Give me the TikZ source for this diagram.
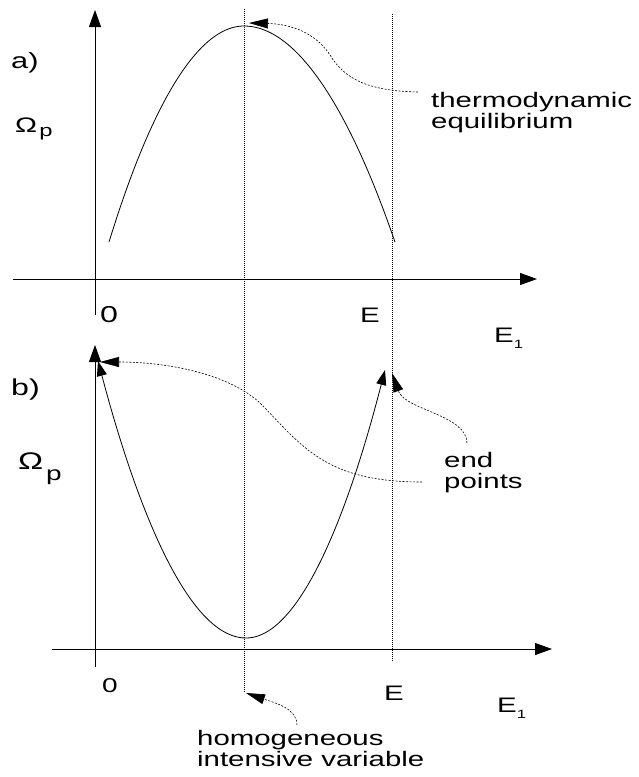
\documentclass[tikz,border=0pt]{standalone}
\usepackage{fontspec}
\setmainfont{Liberation Sans}
\usetikzlibrary{arrows.meta}
\newcommand{\stretchx}[1]{\scalebox{1.4}[1]{#1}}

\tikzset{
  axis/.style={line width=0.9pt,-{Triangle[length=17pt,width=12pt]}},
  curve/.style={line width=0.8pt},
  guide/.style={line width=0.8pt,dash pattern=on 1pt off 1pt},
  pointer/.style={line width=0.6pt,dash pattern=on 2pt off 1.5pt,-{Triangle[length=19pt,width=10pt]}},
  lbl/.style={inner sep=0pt,font=\fontsize{21}{21}\selectfont,align=left},
}

\begin{document}
\begin{tikzpicture}[x=1pt,y=-1pt]
  \useasboundingbox (0,0) rectangle (639,777);

  % guide lines through both panels
  \draw[guide] (244,9) -- (244,693);
  \draw[guide] (392,14) -- (392,662);

  % panel a)
  \draw[axis] (95,315) -- (95,10);
  \draw[axis] (13,279) -- (537,279);
  \draw[curve] (109,242) parabola bend (244,26) (395,242);

  \node[lbl,anchor=base west,font=\fontsize{22}{22}\selectfont] (labA) at (11,68) {\stretchx{a)}};
  \node[lbl,anchor=base west] (omegaA) at (15,132) {\stretchx{\fontsize{21}{21}\selectfont Ω\hspace{1.5pt}\raisebox{-4.5pt}{\fontsize{17}{17}\selectfont p}}};
  \node[lbl,anchor=base west,font=\fontsize{23}{23}\selectfont] (zeroA) at (100,322) {\stretchx{0}};
  \node[lbl,anchor=base west] (eA) at (360,322) {\stretchx{E}};
  \node[lbl,anchor=base west] (eoneA) at (494,342) {\stretchx{E\raisebox{-6pt}{\fontsize{12}{12}\selectfont 1}}};
  \node[lbl,anchor=north west] (eqlbl) at (431,92) {\stretchx{thermodynamic}\\\stretchx{equilibrium}};

  \coordinate (eqfrom) at (418,92);
  \coordinate (peak) at (249,23);
  \draw[pointer] (eqfrom) .. controls (370,91) and (345,80) .. (330,55)
    .. controls (315,32) and (290,24) .. (peak);

  % panel b)
  \draw[axis] (95,667) -- (95,345);
  \draw[axis] (52,649) -- (552,649);
  \draw[curve,{Triangle[length=15pt,width=10pt]}-{Triangle[length=15pt,width=10pt]}]
    (98,361) parabola bend (246,638) (385,370);

  \node[lbl,anchor=base west,font=\fontsize{23}{23}\selectfont] (labB) at (11,395) {\stretchx{b)}};
  \node[lbl,anchor=base west] (omegaB) at (18,469) {\stretchx{\fontsize{24}{24}\selectfont Ω\hspace{2pt}\raisebox{-11pt}{\fontsize{20}{20}\selectfont p}}};
  \node[lbl,anchor=base west,font=\fontsize{20}{20}\selectfont] (zeroB) at (102,692) {\stretchx{0}};
  \node[lbl,anchor=base west] (eB) at (384,700) {\stretchx{E}};
  \node[lbl,anchor=base west] (eoneB) at (497,712) {\stretchx{E\raisebox{-6pt}{\fontsize{12}{12}\selectfont 1}}};
  \node[lbl,anchor=north west] (endlbl) at (444,452) {\stretchx{end}\\\stretchx{points}};
  \node[lbl,anchor=north west] (homlbl) at (197,730) {\stretchx{homogeneous}\\\stretchx{intensive variable}};

  \coordinate (endfromA) at (422,482);
  \coordinate (leftend) at (100,362);
  \coordinate (endfromB) at (467,443);
  \coordinate (rightend) at (392,373);
  \coordinate (homfrom) at (297,725);
  \coordinate (homto) at (246,693);
  \draw[pointer] (endfromA) .. controls (330,482) and (305,450) .. (265,408)
    .. controls (235,375) and (170,362) .. (leftend);
  \draw[pointer] (endfromB) .. controls (467,415) and (405,410) .. (rightend);
  \draw[pointer] (homfrom) .. controls (297,708) and (275,703) .. (homto);
\end{tikzpicture}
\end{document}
